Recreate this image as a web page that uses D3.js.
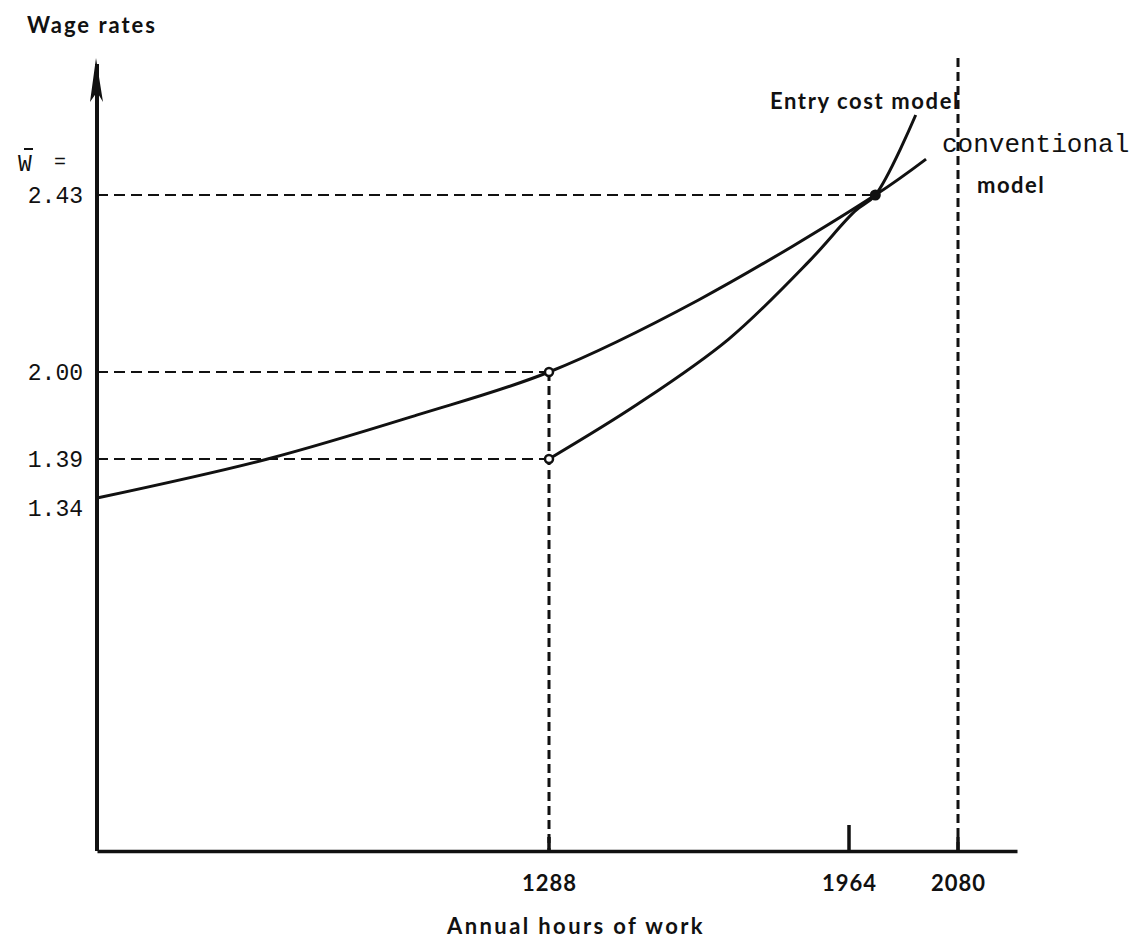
<!DOCTYPE html>
<html lang="en">
<head>
<meta charset="UTF-8">
<script src="https://d3js.org/d3.v7.min.js"></script>
<title>Wage rates and annual hours</title>
<style>
  body { margin: 0; background: #fff; }
  .sans { font-family: Lato, "DejaVu Sans", sans-serif; font-weight: 700; fill: #111; }
  .mono { font-family: "Liberation Mono", "DejaVu Sans Mono", monospace; fill: #111; }
  .dash { fill: none; stroke: #111; stroke-width: 2.2; }
  .curve { fill: none; stroke: #111; stroke-width: 3; }
</style>
</head>
<body>
<script>
// tick labels
var hoursTicks = [1288, 1964, 2080];
var wageTicks = [1.34, 1.39, 2.00, 2.43];

// curves (hours, wage rate)
var conventional = [[0, 1.34], [486, 1.39], [913, 1.699], [1288, 2.00], [1625, 2.175], [1992, 2.43], [2046, 2.527]];
var entryCost = [[1288, 1.39], [1488, 1.775], [1693, 2.08], [1875, 2.27], [1970, 2.39], [1992, 2.43], [2035, 2.646]];

// marked points
var openPoints = [[1288, 2.00], [1288, 1.39]];
var equilibrium = [1992, 2.43];

var width = 1140, height = 948;

// the original is a schematic, so the axes are piecewise
var x = d3.scaleLinear()
    .domain([0, 1288, 1964, 2080, 2140])
    .range([97, 549, 849, 958, 1017]);
var y = d3.scaleLinear()
    .domain([0, 1.34, 1.39, 2.00, 2.43, 2.80])
    .range([851, 498, 459, 372, 195, 58]);

var svg = d3.select("body").append("svg")
    .attr("width", width)
    .attr("height", height);

// dashed guide lines
svg.append("line").attr("class", "dash")
    .attr("x1", x(0)).attr("x2", x(equilibrium[0]))
    .attr("y1", y(2.43)).attr("y2", y(2.43))
    .attr("stroke-dasharray", "11,6");
openPoints.forEach(function(p) {
  svg.append("line").attr("class", "dash")
      .attr("x1", x(0)).attr("x2", x(p[0]))
      .attr("y1", y(p[1])).attr("y2", y(p[1]))
      .attr("stroke-dasharray", "11,6");
});
svg.append("line").attr("class", "dash")
    .attr("x1", x(1288)).attr("x2", x(1288))
    .attr("y1", y(2.00)).attr("y2", y(0))
    .attr("stroke-dasharray", "9,5")
    .style("stroke-width", 3);
svg.append("line").attr("class", "dash")
    .attr("x1", x(2080)).attr("x2", x(2080))
    .attr("y1", y(2.80)).attr("y2", y(0))
    .attr("stroke-dasharray", "9,5")
    .style("stroke-width", 3);

// x axis
var xAxis = d3.axisBottom(x).tickValues(hoursTicks).tickSize(0).tickPadding(24)
    .tickFormat(d3.format("d"));
var gx = svg.append("g")
    .attr("transform", "translate(0," + y(0) + ")")
    .call(xAxis);
gx.select(".domain").attr("stroke", "#111").attr("stroke-width", 3.5);
gx.selectAll("text").attr("class", "sans").style("font-size", "22px")
    .style("letter-spacing", "1px").attr("fill", "#111");

// solid tick at 1964 and short stubs under the dashed lines
svg.append("line")
    .attr("x1", x(1964)).attr("x2", x(1964))
    .attr("y1", y(0)).attr("y2", y(0) - 26)
    .attr("stroke", "#111").attr("stroke-width", 3.5);
[1288, 2080].forEach(function(h) {
  svg.append("line")
      .attr("x1", x(h)).attr("x2", x(h))
      .attr("y1", y(0)).attr("y2", y(0) - 14)
      .attr("stroke", "#111").attr("stroke-width", 3.5);
});

// y axis with arrow
svg.append("line")
    .attr("x1", x(0)).attr("x2", x(0))
    .attr("y1", y(0)).attr("y2", y(2.80) + 6)
    .attr("stroke", "#111").attr("stroke-width", 4);
svg.append("path")
    .attr("d", "M" + (x(0) - 1) + "," + y(2.80) +
      " L" + (x(0) + 6) + "," + (y(2.80) + 44) +
      " L" + x(0) + "," + (y(2.80) + 34) +
      " L" + (x(0) - 7) + "," + (y(2.80) + 44) + " Z")
    .attr("fill", "#111");

// y tick labels
var labelShift = {1.34: 10, 1.39: 0, 2.00: 0, 2.43: 0};
svg.selectAll(".ylab")
    .data(wageTicks)
  .enter().append("text")
    .attr("class", "mono")
    .attr("x", 83)
    .attr("y", function(d) { return y(d) + labelShift[d]; })
    .attr("dy", "0.35em")
    .style("text-anchor", "end")
    .style("font-size", "23px")
    .text(function(d) { return d.toFixed(2); });

// W-bar = label
svg.append("text").attr("class", "mono")
    .attr("x", 18).attr("y", 171)
    .style("font-size", "23px")
    .text("W");
svg.append("line")
    .attr("x1", 24).attr("x2", 33)
    .attr("y1", 149).attr("y2", 149)
    .attr("stroke", "#111").attr("stroke-width", 2);
svg.append("text").attr("class", "mono")
    .attr("x", 54).attr("y", 168)
    .style("font-size", "20px")
    .text("=");

// curves
var line = d3.line()
    .x(function(d) { return x(d[0]); })
    .y(function(d) { return y(d[1]); })
    .curve(d3.curveCatmullRom.alpha(0.5));

svg.append("path").datum(conventional).attr("class", "curve").attr("d", line);
svg.append("path").datum(entryCost).attr("class", "curve").attr("d", line);

// points
svg.selectAll(".open")
    .data(openPoints)
  .enter().append("circle")
    .attr("cx", function(d) { return x(d[0]); })
    .attr("cy", function(d) { return y(d[1]); })
    .attr("r", 4)
    .attr("fill", "#fff")
    .attr("stroke", "#111")
    .attr("stroke-width", 2.5);
svg.append("circle")
    .attr("cx", x(equilibrium[0]))
    .attr("cy", y(equilibrium[1]))
    .attr("r", 5.5)
    .attr("fill", "#111");

// text labels
svg.append("text").attr("class", "sans")
    .attr("x", 27).attr("y", 33)
    .style("font-size", "22px").style("letter-spacing", "2px")
    .text("Wage rates");
svg.append("text").attr("class", "sans")
    .attr("x", 770).attr("y", 109)
    .style("font-size", "22px").style("letter-spacing", "1.6px")
    .text("Entry cost model");
svg.append("text").attr("class", "mono")
    .attr("x", 942).attr("y", 152)
    .style("font-size", "26px")
    .text("conventional");
svg.append("text").attr("class", "sans")
    .attr("x", 977).attr("y", 193)
    .style("font-size", "22px").style("letter-spacing", "1.5px")
    .text("model");
svg.append("text").attr("class", "sans")
    .attr("x", 576).attr("y", 934)
    .style("text-anchor", "middle")
    .style("font-size", "22px").style("letter-spacing", "2.4px")
    .text("Annual hours of work");
</script>
</body>
</html>
